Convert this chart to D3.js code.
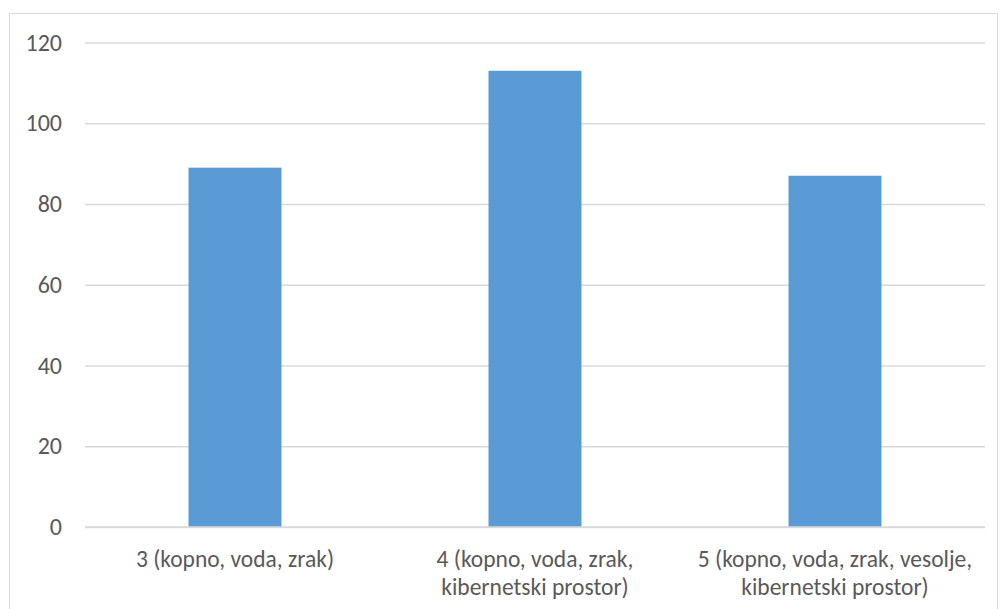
<!DOCTYPE html>
<html>
<head>
<meta charset="utf-8">
<script src="https://cdn.jsdelivr.net/npm/d3@7"></script>
<style>
  html, body { margin: 0; padding: 0; background: #fff; }
  svg { display: block; }
</style>
</head>
<body>
<svg id="chart" width="1000" height="609"></svg>
<script>
// Category labels (each split into display lines) and values
const categories = [
  ["3 (kopno, voda, zrak)"],
  ["4 (kopno, voda, zrak,", "kibernetski prostor)"],
  ["5 (kopno, voda, zrak, vesolje,", "kibernetski prostor)"]
];
const values = [89, 113, 87];
const yTicks = [0, 20, 40, 60, 80, 100, 120];

const svg = d3.select("#chart");
const W = 1000, H = 609;
const margin = { left: 85, right: 15, top: 42.5, bottom: 82 };
const fontFamily = "Carlito, Calibri, 'Open Sans', sans-serif";

// Chart frame
svg.append("rect")
  .attr("x", 9.5).attr("y", 13.5)
  .attr("width", 988).attr("height", 610)
  .attr("fill", "#fff")
  .attr("stroke", "#d9d9d9").attr("stroke-width", 1);

const x = d3.scaleBand()
  .domain(d3.range(categories.length))
  .range([margin.left, W - margin.right])
  .paddingInner(0.69).paddingOuter(0.345);

const y = d3.scaleLinear()
  .domain([0, 120])
  .range([H - margin.bottom, margin.top]);

// Gridlines and y tick labels
const yAxis = d3.axisLeft(y)
  .tickValues(yTicks)
  .tickSize(-(W - margin.right - margin.left))
  .tickPadding(23);

const gy = svg.append("g")
  .attr("transform", `translate(${margin.left},0)`)
  .call(yAxis);
gy.select(".domain").remove();
gy.selectAll(".tick line").attr("stroke", "#d9d9d9").attr("stroke-width", 1.5);
gy.selectAll(".tick text")
  .attr("fill", "#595959")
  .style("font-family", fontFamily)
  .style("font-size", "24px");

// Bars
svg.append("g").selectAll("rect")
  .data(values)
  .join("rect")
  .attr("x", (d, i) => x(i))
  .attr("y", d => y(d))
  .attr("width", x.bandwidth())
  .attr("height", d => y(0) - y(d))
  .attr("fill", "#5b9bd5");

// Baseline redrawn over the bars' feet
svg.append("line")
  .attr("x1", margin.left).attr("x2", W - margin.right)
  .attr("y1", y(0)).attr("y2", y(0))
  .attr("stroke", "#d9d9d9").attr("stroke-width", 1.5);

// Category labels
const xAxisG = svg.append("g");
categories.forEach((lines, i) => {
  const t = xAxisG.append("text")
    .attr("x", x(i) + x.bandwidth() / 2)
    .attr("y", 567)
    .attr("text-anchor", "middle")
    .attr("fill", "#595959")
    .style("font-family", fontFamily)
    .style("font-size", "23.5px");
  lines.forEach((ln, k) => {
    t.append("tspan")
      .attr("x", x(i) + x.bandwidth() / 2)
      .attr("dy", k === 0 ? 0 : 28)
      .text(ln);
  });
});
</script>
</body>
</html>
